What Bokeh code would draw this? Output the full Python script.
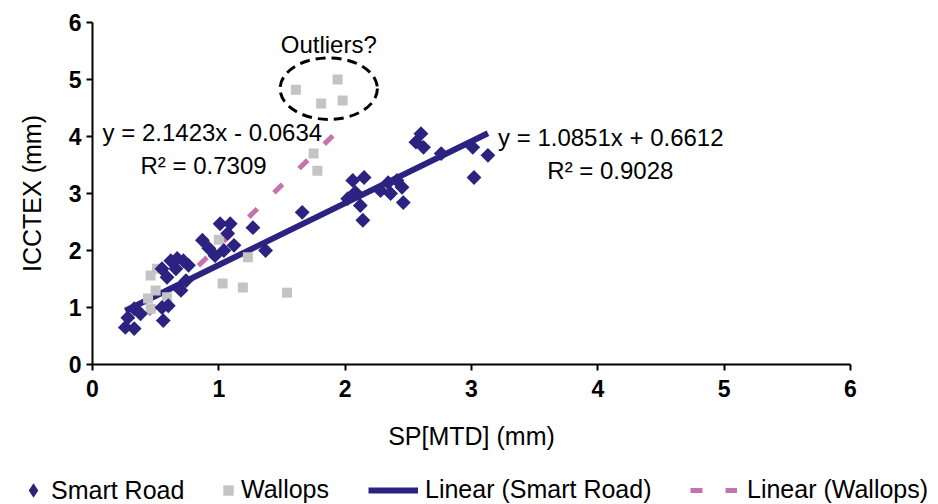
from bokeh.plotting import figure
from bokeh.models import Legend, LegendItem, Label, Range1d, FixedTicker, LinearAxis
from bokeh.embed import file_html
from bokeh.resources import INLINE

# ---- data ----
smart_x = [0.26, 0.33, 0.28, 0.33, 0.38, 0.55, 0.56, 0.60,
           0.70, 0.55, 0.62, 0.67, 0.72, 0.76, 0.59, 0.66, 0.74,
           0.87, 0.92, 1.01, 1.09, 1.07, 0.97, 1.04, 1.12, 1.27, 1.37, 1.66,
           2.06, 2.15, 2.02, 2.12, 2.14, 2.08, 2.28, 2.34, 2.41, 2.45, 2.36, 2.46,
           2.60, 2.56, 2.62, 2.76, 3.01, 3.13, 3.02]
smart_y = [0.65, 0.63, 0.82, 0.98, 0.89, 1.00, 0.77, 1.03,
           1.30, 1.68, 1.82, 1.86, 1.82, 1.74, 1.53, 1.68, 1.47,
           2.18, 2.04, 2.47, 2.47, 2.30, 1.91, 2.00, 2.09, 2.40, 2.00, 2.67,
           3.23, 3.28, 2.91, 2.79, 2.53, 3.02, 3.05, 3.19, 3.23, 3.11, 3.00, 2.84,
           4.05, 3.90, 3.81, 3.70, 3.81, 3.67, 3.28]

wallops_x = [1.00, 1.23, 1.03, 1.19, 1.54, 0.46, 0.51, 0.44, 0.50, 0.59, 0.46,
             1.75, 1.78, 1.61, 1.94, 1.81, 1.98]
wallops_y = [2.19, 1.88, 1.42, 1.35, 1.26, 1.56, 1.68, 1.16, 1.30, 1.18, 0.98,
             3.70, 3.40, 4.82, 5.00, 4.58, 4.63]

smart_fit = [1.0851, 0.6612]     # slope, intercept
wallops_fit = [2.1423, -0.0634]
smart_r2 = "0.9028"
wallops_r2 = "0.7309"

x_ticks = [0, 1, 2, 3, 4, 5, 6]
y_ticks = [0, 1, 2, 3, 4, 5, 6]

# outlier ellipse (data units)
ell_x, ell_y, ell_w, ell_h = [1.87], [4.84], [0.77], [1.08]

NAVY = "#2c2380"
GRAY = "#c4c4c4"
PINK = "#c673ac"
FONT = "Liberation Sans"

# The frame covers the whole page so that axis texts and the legend are not
# clipped; the axes are pinned at 0. Plot area: x 0..6 -> 92..850 px,
# y 0..6 -> 364..22 px.
XPX = 758 / 6.0
YPX = 342 / 6.0
p = figure(width=938, height=504, output_backend="svg", toolbar_location=None,
           x_range=Range1d(-92 / XPX, 6 + 88 / XPX),
           y_range=Range1d(-140 / YPX, 6 + 22 / YPX),
           x_axis_location=None, y_axis_location=None,
           min_border_left=0, min_border_right=0, min_border_top=0,
           min_border_bottom=0)
p.outline_line_color = None
p.grid.visible = False
p.background_fill_color = "white"

xax = LinearAxis(fixed_location=0)
yax = LinearAxis(fixed_location=0)
p.add_layout(xax, "below")
p.add_layout(yax, "left")

for ax, ticks in ((xax, x_ticks), (yax, y_ticks)):
    ax.ticker = FixedTicker(ticks=ticks)
    ax.bounds = (0, 6)
    ax.minor_tick_line_color = None
    ax.axis_line_width = 2
    ax.axis_line_color = "black"
    ax.major_tick_line_width = 2
    ax.major_tick_out = 6
    ax.major_tick_in = 0
    ax.major_label_text_font = FONT
    ax.major_label_text_font_size = "23px"
    ax.major_label_text_font_style = "bold"
    ax.major_label_text_color = "black"
    ax.axis_label_text_font = FONT
    ax.axis_label_text_font_size = "25px"
    ax.axis_label_text_font_style = "normal"
    ax.axis_label_text_color = "black"

xax.axis_label = "SP[MTD] (mm)"
yax.axis_label = "ICCTEX (mm)"
xax.major_label_standoff = 9
xax.axis_label_standoff = 22
yax.major_label_standoff = 5
yax.axis_label_standoff = 20

# trend lines
sx0, sx1 = min(smart_x), max(smart_x)
wx0, wx1 = min(wallops_x), max(wallops_x)
r_wl = p.line([wx0, wx1], [wallops_fit[0] * wx0 + wallops_fit[1], wallops_fit[0] * wx1 + wallops_fit[1]],
              line_color=PINK, line_width=5, line_dash="12 23")
r_sl = p.line([sx0, sx1], [smart_fit[0] * sx0 + smart_fit[1], smart_fit[0] * sx1 + smart_fit[1]],
              line_color=NAVY, line_width=6)

r_w = p.scatter(wallops_x, wallops_y, marker="square", size=10, fill_color=GRAY,
                line_color=None)
# diamond key (hidden beneath the rotated squares; supplies the legend swatch)
r_s_key = p.scatter(smart_x, smart_y, marker="diamond", size=12, fill_color=NAVY,
                    line_color=None)
r_s = p.scatter(smart_x, smart_y, marker="square", size=10.5, angle=0.785398,
                fill_color=NAVY, line_color=None)

p.ellipse(ell_x, ell_y, width=ell_w, height=ell_h, fill_color=None,
          line_color="black", line_width=3, line_dash="10 6")

def lab(x, y, txt, align="left"):
    p.add_layout(Label(x=x, y=y, text=txt, text_font=FONT, text_font_size="24px",
                       text_color="black", text_align=align, text_baseline="middle"))

lab(1.87, 5.61, "Outliers?", "center")
lab(0.08, 4.07, f"y = {wallops_fit[0]}x - {abs(wallops_fit[1])}")
lab(0.38, 3.49, f"R² = {wallops_r2}")
lab(3.21, 3.98, f"y = {smart_fit[0]}x + {smart_fit[1]}")
lab(3.60, 3.40, f"R² = {smart_r2}")

def add_leg(label, rend, vx, vy, gw, gh, standoff):
    lg = Legend(items=[LegendItem(label=label, renderers=[rend])],
                location=(vx, vy), orientation="horizontal",
                padding=0, margin=0, spacing=0,
                glyph_width=gw, glyph_height=gh, label_height=28,
                label_standoff=standoff,
                label_text_font=FONT, label_text_font_size="25px",
                label_text_color="black",
                border_line_color=None, background_fill_alpha=0)
    p.add_layout(lg, "center")

add_leg("Smart Road", r_s_key, 15, -4, 36, 36, 0)
add_leg("Wallops", r_w, 215, 0, 26, 28, 0)
add_leg("Linear (Smart Road)", r_sl, 368, 0, 50, 28, 7)
add_leg("Linear (Wallops)", r_wl, 690, 0, 47, 28, 10)

open("out.html", "w").write(file_html(p, INLINE))
